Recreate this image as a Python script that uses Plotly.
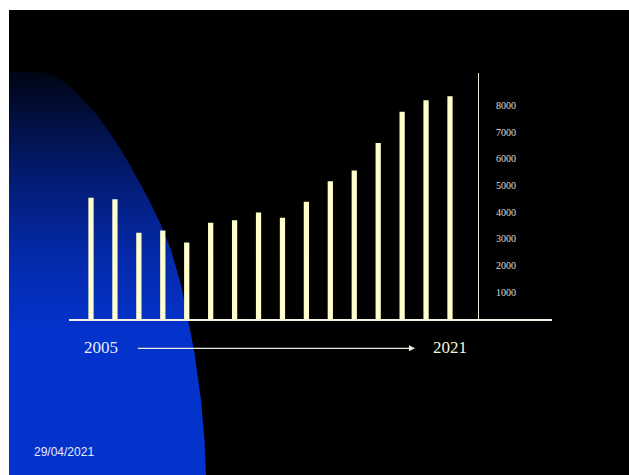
import plotly.graph_objects as go

# ---- data ----
years = list(range(2005, 2021))
values = [4540, 4480, 3230, 3310, 2860, 3600, 3700, 3990, 3790, 4390,
          5160, 5560, 6590, 7760, 8190, 8340]
tick_vals = [1000, 2000, 3000, 4000, 5000, 6000, 7000, 8000]
tick_text = ["1000", "2000", "3000", "4000", "5000", "6000", "7000", "8000"]
start_label = "2005"
end_label = "2021"
date_label = "29/04/2021"

W, H = 629, 475

# decorative background outline (pixel space)
blue_x = [9, 25, 40, 52, 62, 74, 83, 97, 110, 121, 131, 141, 149, 161, 171, 181, 188, 194, 201, 204.5, 206, 206, 9]
blue_y = [72, 71.7, 72, 75, 80, 90, 100, 115, 133, 150, 167, 185, 200, 225, 250, 285, 319, 350, 400, 440, 475, 476, 476]

fig = go.Figure()

# black slide background
fig.add_trace(go.Scatter(x=[9, W + 1, W + 1, 9, 9], y=[10, 10, H + 1, H + 1, 10],
                         mode="lines", fill="toself", fillcolor="black",
                         line=dict(width=0, color="black"), hoverinfo="skip",
                         showlegend=False, xaxis="x", yaxis="y"))
# blue gradient shape
fig.add_trace(go.Scatter(x=blue_x, y=blue_y, mode="lines", fill="toself",
                         line=dict(width=0, color="rgba(0,0,0,0)"),
                         fillgradient=dict(type="vertical", start=72, stop=330,
                                           colorscale=[[0, "#000514"], [0.35, "#031866"],
                                                       [0.7, "#0429a8"], [1, "#0433cc"]]),
                         hoverinfo="skip", showlegend=False, xaxis="x", yaxis="y"))

# bars
fig.add_trace(go.Bar(x=years, y=values, width=0.22, marker=dict(color="#FFFFCC", line=dict(width=0)),
                     xaxis="x2", yaxis="y2", showlegend=False))

fig.update_layout(
    width=W, height=H, autosize=False,
    margin=dict(l=0, r=0, t=0, b=0, pad=0),
    paper_bgcolor="white", plot_bgcolor="rgba(0,0,0,0)",
    xaxis=dict(domain=[0, 1], range=[0, W], visible=False, fixedrange=True),
    yaxis=dict(domain=[0, 1], range=[H, 0], visible=False, fixedrange=True),
    xaxis2=dict(domain=[69 / W, 552 / W], anchor="y2",
                range=[2005 - 22 / 23.93, 2020 + 102 / 23.93],
                showline=True, linecolor="#f2f2e4", linewidth=1.5,
                showticklabels=False, ticks="", showgrid=False, zeroline=False),
    yaxis2=dict(domain=[(H - 319) / H, (H - 72.7) / H], anchor="free", position=478 / W,
                side="right", range=[0, 9220], tickvals=tick_vals, ticktext=tick_text,
                ticks="", ticklabelstandoff=15, showgrid=False, zeroline=False,
                showline=True, linecolor="#e8e8d8", linewidth=1,
                tickfont=dict(family="Liberation Serif", size=10, color="#dedede")),
    annotations=[
        dict(x=101, y=347.5, xref="x", yref="y", text=start_label, showarrow=False,
             font=dict(family="Liberation Serif", size=17, color="#e8eeff")),
        dict(x=450, y=347.5, xref="x", yref="y", text=end_label, showarrow=False,
             font=dict(family="Liberation Serif", size=17, color="#f6f6d2")),
        dict(x=415, y=348.3, xref="x", yref="y", ax=136.4, ay=348.3, axref="x", ayref="y",
             text="", showarrow=True, arrowhead=2, arrowsize=1, arrowwidth=1.2,
             arrowcolor="#ecece0"),
        dict(x=64.3, y=452.3, xref="x", yref="y", text=date_label, showarrow=False,
             font=dict(family="Liberation Sans", size=12, color="#e4eaff")),
    ],
)

fig.write_html("out.html")
